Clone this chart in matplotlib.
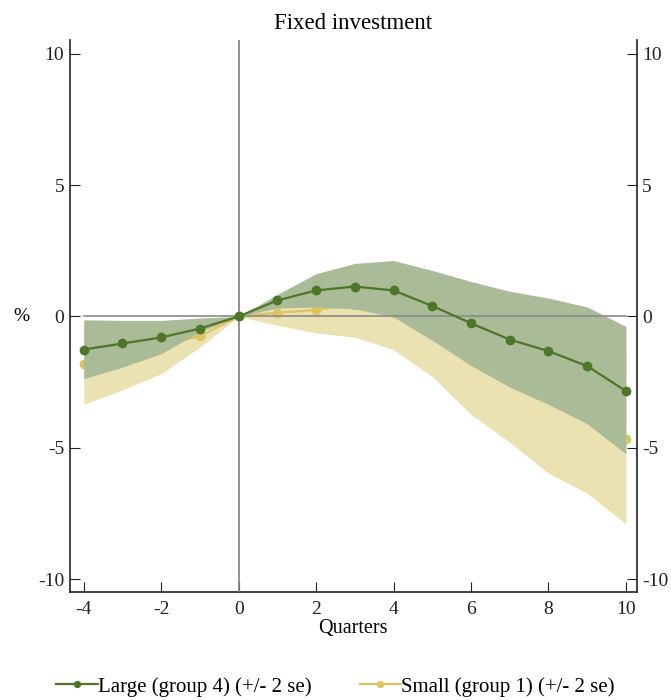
import matplotlib
matplotlib.use("Agg")
import matplotlib.pyplot as plt
import numpy as np

plt.rcParams['font.family'] = ['Liberation Serif', 'DejaVu Serif']

# quarters relative to the shock
quarters = [-4, -3, -2, -1, 0, 1, 2, 3, 4, 5, 6, 7, 8, 9, 10]

# Large firms (group 4): response and +/- 2 se band
large = [-1.26, -1.03, -0.80, -0.46, 0.0, 0.61, 0.99, 1.14, 0.99, 0.40, -0.26, -0.88, -1.32, -1.89, -2.84]
large_hi = [-0.13, -0.15, -0.15, -0.06, 0.0, 0.84, 1.63, 2.02, 2.13, 1.75, 1.33, 0.96, 0.70, 0.36, -0.38]
large_lo = [-2.37, -1.93, -1.42, -0.58, 0.0, 0.32, 0.36, 0.29, -0.02, -0.91, -1.87, -2.69, -3.35, -4.09, -5.23]

# Small firms (group 1)
small = [-1.80, -1.45, -1.10, -0.75, 0.0, 0.14, 0.25, 0.45, 0.15, -0.45, -1.25, -2.0, -2.8, -3.6, -4.66]
small_hi = [-0.30, -0.25, -0.20, -0.30, 0.0, 0.36, 0.38, 0.48, 0.40, -0.10, -0.60, -1.00, -1.40, -1.60, -1.40]
small_lo = [-3.35, -2.79, -2.18, -1.17, 0.0, -0.34, -0.63, -0.79, -1.27, -2.29, -3.73, -4.79, -5.97, -6.73, -7.90]

green = '#4f7528'
green_band = '#aabb98'
yellow = '#dfc35e'
yellow_band = '#ebe2b2'

fig = plt.figure(figsize=(6.71, 7.0), dpi=100)
ax = fig.add_axes([0.104, 0.154, 0.845, 0.789])

# small drawn first, large band covers it
ax.fill_between(quarters, small_lo, small_hi, color=yellow_band, lw=0, zorder=1)
ax.plot(quarters, small, color=yellow, marker='o', ms=6, lw=1.6, zorder=2,
        label='Small (group 1) (+/- 2 se)')
ax.fill_between(quarters, large_lo, large_hi, color=green_band, lw=0, zorder=3)

ax.axvline(0, color='#7f7f7f', lw=1.2, zorder=3.5)
ax.plot([quarters[0], quarters[-1]], [0, 0], color='#8a8a8a', lw=1.2, zorder=3.5)

ax.plot(quarters, large, color=green, marker='o', ms=6, lw=1.6, zorder=4,
        label='Large (group 4) (+/- 2 se)')

ax.set_xlim(-4.36, 10.28)
ax.set_ylim(-10.5, 10.53)
ax.set_xticks(range(-4, 11, 2))
ax.set_yticks([-10, -5, 0, 5, 10])
ax.set_yticklabels(['-10', '-5', '0', '5', '10'])
ax.set_xticklabels([str(v) for v in range(-4, 11, 2)])

ax.spines['top'].set_visible(False)
for s in ['left', 'right', 'bottom']:
    ax.spines[s].set_color('#222222')
    ax.spines[s].set_linewidth(1.2)
ax.tick_params(axis='y', direction='in', left=True, right=True,
               labelleft=True, labelright=True, length=7, labelsize=14,
               colors='#222222', pad=4)
ax.tick_params(axis='x', direction='in', length=7, labelsize=14,
               colors='#222222', pad=6)

ax.set_xlabel('Quarters', fontsize=14.5, labelpad=1)
ax.set_ylabel('%', fontsize=14, rotation=0, va='center', ha='center')
ax.yaxis.set_label_coords(-0.085, (0 + 10.5) / 21.03)
ax.set_title('Fixed investment', fontsize=16.5, pad=8)

h, l = ax.get_legend_handles_labels()
fig.legend(h[::-1], l[::-1], loc='lower center', bbox_to_anchor=(0.5, -0.022),
           ncol=2, frameon=False, fontsize=15, handlelength=2.0,
           handletextpad=0.0, columnspacing=2.3, markerscale=0.7)

fig.savefig('out.png', dpi=100)
